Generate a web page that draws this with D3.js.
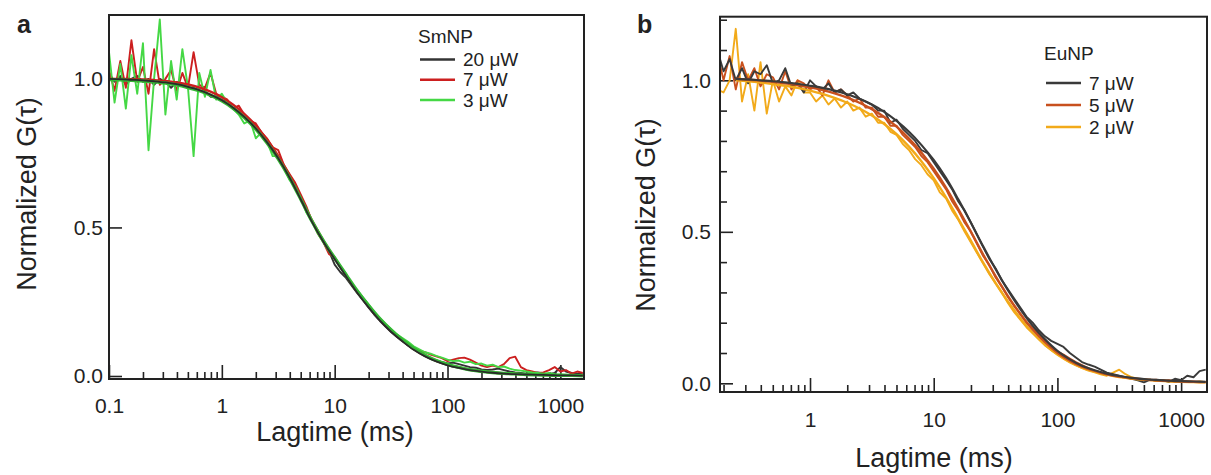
<!DOCTYPE html>
<html><head><meta charset="utf-8">
<script src="https://cdn.jsdelivr.net/npm/d3@7"></script>
<style>body{margin:0;background:#fff}svg text{font-family:"Liberation Sans",Arial,sans-serif;fill:#222}</style>
</head><body><svg id="c" width="1211" height="475"></svg>
<script>
// ---------- data ----------
const lag = [0.1,0.112,0.126,0.141,0.158,0.178,0.2,0.224,0.251,0.282,0.316,0.355,0.398,0.447,0.501,0.562,0.631,0.708,0.794,0.891,
  1,1.12,1.26,1.41,1.58,1.78,2,2.24,2.51,2.82,3.16,3.55,3.98,4.47,5.01,5.62,6.31,7.08,7.94,8.91,
  10,11.2,12.6,14.1,15.8,17.8,20,22.4,25.1,28.2,31.6,35.5,39.8,44.7,50.1,56.2,63.1,70.8,79.4,89.1,
  100,112,126,141,158,178,200,224,251,282,316,355,398,447,501,562,631,708,794,891,
  1000,1120,1260,1410,1580];
const lagB = [0.178,0.2,0.224,0.251,0.282,0.316,0.355,0.398,0.447,0.501,0.562,0.631,0.708,0.794,0.891,
  1,1.12,1.26,1.41,1.58,1.78,2,2.24,2.51,2.82,3.16,3.55,3.98,4.47,5.01,5.62,6.31,7.08,7.94,8.91,
  10,11.2,12.6,14.1,15.8,17.8,20,22.4,25.1,28.2,31.6,35.5,39.8,44.7,50.1,56.2,63.1,70.8,79.4,89.1,
  100,112,126,141,158,178,200,224,251,282,316,355,398,447,501,562,631,708,794,891,
  1000,1120,1260,1410,1580];
const fitLag = [0.1,0.126,0.158,0.2,0.251,0.316,0.398,0.501,0.631,0.794,1,1.26,1.58,2,2.51,3.16,3.98,5.01,6.31,7.94,
  10,12.6,15.8,20,25.1,31.6,39.8,50.1,63.1,79.4,100,126,158,200,251,316,398,501,631,794,1000,1260,1580];
const fitLagB = [0.251,0.316,0.398,0.501,0.631,0.794,1,1.26,1.58,2,2.51,3.16,3.98,5.01,6.31,7.94,
  10,12.6,15.8,20,25.1,31.6,39.8,50.1,63.1,79.4,100,126,158,200,251,316,398,501,631,794,1000,1260,1580];

// Panel a : SmNP
const seriesA = ["20 μW","7 μW","3 μW"];
const colorsA = ["#333333","#cc1f1f","#45d845"];
const dataA20 = [1.02,0.99,1.01,0.98,1.0,1.01,0.99,1.0,0.98,1.0,0.99,0.97,0.99,0.98,0.97,0.97,0.96,0.96,0.94,0.94,
  0.93,0.92,0.9,0.89,0.87,0.86,0.83,0.81,0.79,0.76,0.73,0.7,0.67,0.63,0.6,0.56,0.52,0.49,0.45,0.42,
  0.375,0.35,0.33,0.305,0.28,0.255,0.23,0.207,0.186,0.166,0.148,0.132,0.117,0.103,0.09,0.08,0.07,0.06,0.053,0.047,
  0.042,0.045,0.04,0.035,0.03,0.028,0.022,0.02,0.022,0.025,0.02,0.015,0.012,0.01,0.008,0.01,0.012,0.008,0.006,0.01,0.03,0.015,0.01,0.008,0.006];
const dataA7 = [1.03,0.96,1.06,0.97,1.13,0.99,1.04,0.95,1.1,0.98,1.0,1.03,0.96,1.02,0.97,1.09,0.98,0.97,1.02,0.95,
  0.94,0.93,0.9,0.91,0.88,0.86,0.85,0.82,0.8,0.77,0.76,0.71,0.68,0.65,0.61,0.57,0.52,0.48,0.45,0.41,
  0.4,0.37,0.34,0.31,0.285,0.26,0.235,0.21,0.19,0.17,0.152,0.135,0.12,0.108,
  0.095,0.085,0.08,0.072,0.066,0.06,0.05,0.055,0.06,0.062,0.055,0.045,0.035,0.03,0.035,0.03,0.04,0.06,0.065,0.03,
  0.02,0.015,0.01,0.012,0.02,0.03,0.015,0.02,0.008,0.015,0.01];
const dataA3 = [1.09,0.92,1.05,0.9,1.08,0.95,1.12,0.76,1.0,1.2,0.88,1.06,0.93,1.1,0.97,0.74,1.02,0.94,1.03,0.93,
  0.95,0.92,0.9,0.88,0.85,0.86,0.8,0.82,0.79,0.74,0.74,0.7,0.66,0.64,0.6,0.55,0.52,0.48,0.45,0.42,
  0.4,0.37,0.345,0.31,0.29,0.265,0.24,0.215,0.195,0.175,0.158,0.14,0.128,0.115,0.1,0.09,0.08,0.075,0.068,0.062,
  0.055,0.05,0.052,0.045,0.048,0.04,0.042,0.035,0.038,0.03,0.032,0.025,0.02,0.018,0.015,0.012,0.01,0.008,0.01,0.006,0.005,0.004,0.003,0.002,0.002];
const fitA20 = [1.0,0.999,0.997,0.995,0.992,0.988,0.982,0.973,0.962,0.947,0.928,0.903,0.872,0.833,0.787,0.733,0.668,0.594,0.518,0.452,
  0.393,0.336,0.281,0.231,0.187,0.149,0.117,0.088,0.066,0.049,0.036,0.027,0.02,0.015,0.011,0.008,0.006,0.005,0.004,0.003,0.002,0.002,0.001];
const fitA7 = [1.0,1.0,0.999,0.998,0.996,0.993,0.988,0.981,0.971,0.957,0.938,0.913,0.882,0.843,0.796,0.741,0.675,0.6,0.523,0.456,
  0.396,0.339,0.284,0.234,0.19,0.152,0.12,0.091,0.068,0.051,0.038,0.029,0.021,0.016,0.012,0.009,0.007,0.005,0.004,0.003,0.002,0.002,0.001];
const fitA3 = [0.998,0.997,0.995,0.993,0.99,0.986,0.98,0.971,0.96,0.945,0.926,0.901,0.87,0.831,0.785,0.731,0.667,0.595,0.52,0.455,
  0.397,0.341,0.287,0.237,0.193,0.155,0.122,0.093,0.07,0.052,0.039,0.029,0.021,0.016,0.012,0.009,0.007,0.005,0.004,0.003,0.002,0.002,0.001];

// Panel b : EuNP
const seriesB = ["7 μW","5 μW","2 μW"];
const colorsB = ["#3a3a3a","#c8501e","#f2aa1a"];
const dataB7 = [1.1,1.03,1.07,1.0,1.04,0.99,1.03,1.02,1.05,0.99,1.0,1.04,0.98,0.99,0.96,
  1.0,0.98,0.97,0.99,0.96,0.97,0.95,0.96,0.94,0.93,0.92,0.9,0.9,0.86,0.87,0.84,0.82,0.8,0.77,0.76,
  0.73,0.7,0.67,0.64,0.6,0.57,0.53,0.49,0.45,0.41,0.38,0.34,0.31,0.28,0.25,0.22,0.2,0.175,0.155,0.14,
  0.13,0.12,0.1,0.085,0.07,0.062,0.055,0.045,0.035,0.03,0.025,0.02,0.015,0.01,0.003,0.012,0.008,0.01,0.005,0.015,0.01,0.025,0.02,0.04,0.045];
const dataB5 = [1.09,1.0,1.08,0.97,1.06,1.0,1.04,0.98,1.02,1.01,0.97,1.03,0.97,1.0,0.99,
  0.97,0.98,0.95,1.0,0.96,0.97,0.95,0.93,0.94,0.91,0.91,0.88,0.88,0.85,0.85,0.82,0.8,0.78,0.75,0.73,
  0.7,0.67,0.64,0.6,0.57,0.53,0.5,0.46,0.42,0.39,0.35,0.32,0.285,0.255,0.23,0.2,0.18,0.16,0.14,0.12,
  0.105,0.095,0.082,0.07,0.06,0.05,0.042,0.035,0.03,0.026,0.022,0.018,0.015,0.013,0.012,0.01,0.012,0.008,0.01,0.006,0.008,0.006,0.005,0.004,0.004];
const dataB2 = [0.97,0.96,1.0,1.17,0.93,1.02,0.9,1.06,0.89,1.0,0.93,0.98,0.95,1.0,0.96,
  0.96,0.93,0.95,0.92,0.94,0.91,0.93,0.9,0.91,0.88,0.89,0.86,0.86,0.83,0.82,0.79,0.77,0.74,0.72,0.69,
  0.67,0.63,0.61,0.57,0.54,0.5,0.465,0.43,0.395,0.36,0.33,0.3,0.265,0.235,0.21,0.185,0.165,0.145,0.125,0.11,
  0.095,0.082,0.07,0.06,0.05,0.042,0.036,0.03,0.025,0.035,0.045,0.03,0.02,0.015,0.01,0.012,0.008,0.01,0.006,0.005,0.007,0.005,0.004,0.006,0.004];
const fitB7 = [1.005,1.003,1.0,0.997,0.993,0.988,0.982,0.975,0.966,0.954,0.939,0.92,0.896,0.866,0.83,0.787,
  0.737,0.677,0.607,0.53,0.452,0.377,0.307,0.245,0.19,0.145,0.107,0.079,0.058,0.043,0.032,0.024,0.018,0.014,0.011,0.009,0.007,0.006,0.005];
const fitB5 = [1.005,1.002,0.999,0.995,0.99,0.984,0.977,0.968,0.957,0.943,0.926,0.905,0.879,0.847,0.808,0.762,
  0.708,0.645,0.575,0.5,0.425,0.354,0.288,0.229,0.178,0.136,0.101,0.075,0.055,0.041,0.03,0.022,0.017,0.013,0.01,0.008,0.006,0.005,0.004];
const fitB2 = [1.0,0.997,0.993,0.988,0.982,0.975,0.966,0.955,0.942,0.926,0.907,0.884,0.856,0.822,0.781,0.733,
  0.677,0.613,0.543,0.47,0.398,0.331,0.27,0.215,0.167,0.127,0.095,0.07,0.052,0.039,0.029,0.021,0.016,0.012,0.009,0.007,0.005,0.004,0.003];

const xMajor = [0.1,1,10,100,1000];
const xTickLabels = ["0.1","1","10","100","1000"];
const yMajor = [0,0.5,1.0];
const yTickLabels = ["0.0","0.5","1.0"];
const yMinorB = [0.1,0.2,0.3,0.4,0.6,0.7,0.8,0.9,1.1,1.2];
const xTitle = "Lagtime (ms)";
const yTitle = "Normalized G(τ)";

// ---------- drawing ----------
const svg = d3.select("#c");
const zip = (xs, ys) => ys.map((v,i)=>[xs[i], v]);

function panel(cfg){
  const g = svg.append("g");
  const x = d3.scaleLog().domain(cfg.xDom).range([cfg.L, cfg.R]);
  const y = d3.scaleLinear().domain(cfg.yDom).range([cfg.B, cfg.T]);
  const id = "clip"+cfg.name;
  svg.append("clipPath").attr("id", id).append("rect")
    .attr("x", cfg.L).attr("y", cfg.T).attr("width", cfg.R-cfg.L).attr("height", cfg.B-cfg.T);

  const dom = x.domain();
  const minors = [];
  xMajor.forEach(d => { for (let k=2;k<10;k++){ const v=d*k; if (v>=dom[0] && v<=dom[1]) minors.push(v);} });
  const majors = xMajor.filter(v => v>=dom[0]*0.999 && v<=dom[1]);
  g.append("g").attr("transform",`translate(0,${cfg.B})`)
    .call(d3.axisBottom(x).tickValues(minors).tickSizeInner(-7).tickSizeOuter(0).tickFormat(""));
  g.append("g").attr("transform",`translate(0,${cfg.B})`)
    .call(d3.axisBottom(x).tickValues(majors).tickSizeInner(-14).tickSizeOuter(0).tickPadding(cfg.xPad)
    .tickFormat(d => xTickLabels[xMajor.indexOf(d)]));
  g.append("g").attr("transform",`translate(${cfg.L},0)`)
    .call(d3.axisLeft(y).tickValues(yMajor).tickSizeInner(-13).tickSizeOuter(0).tickPadding(cfg.yPad)
    .tickFormat(d => yTickLabels[yMajor.indexOf(d)]));
  if (cfg.yMinor){
    g.append("g").attr("transform",`translate(${cfg.L},0)`)
      .call(d3.axisLeft(y).tickValues(cfg.yMinor).tickSizeInner(-7).tickSizeOuter(0).tickFormat(""));
  }
  g.selectAll(".domain").remove();
  g.selectAll(".tick line").attr("stroke","#222").attr("stroke-width",1.6);
  g.selectAll(".tick text").attr("font-size",21).attr("fill","#222")
    .attr("font-family",'"Liberation Sans",Arial,sans-serif');

  const lineD = d3.line().x(d=>x(d[0])).y(d=>y(d[1]));
  const lineF = d3.line().x(d=>x(d[0])).y(d=>y(d[1])).curve(d3.curveMonotoneX);
  const pg = g.append("g").attr("clip-path",`url(#${id})`);
  cfg.data.forEach(s => {
    pg.append("path").attr("d", lineD(zip(s.x, s.y))).attr("fill","none")
      .attr("stroke", s.c).attr("stroke-width", 1.9).attr("stroke-linejoin","round");
  });
  cfg.fits.forEach(s => {
    pg.append("path").attr("d", lineF(zip(s.x, s.y))).attr("fill","none")
      .attr("stroke", s.c).attr("stroke-width", s.w).attr("stroke-linejoin","round");
  });

  g.append("rect").attr("x",cfg.L).attr("y",cfg.T).attr("width",cfg.R-cfg.L).attr("height",cfg.B-cfg.T)
    .attr("fill","none").attr("stroke","#222").attr("stroke-width",2);

  g.append("text").attr("x",cfg.xTitleX).attr("y",cfg.xTitleY).attr("text-anchor","middle")
    .attr("font-size",27).text(xTitle);
  g.append("text").attr("transform",`translate(${cfg.yTitleX},${cfg.yTitleY}) rotate(-90)`)
    .attr("text-anchor","middle").attr("font-size",27).text(yTitle);
  g.append("text").attr("x",cfg.tagX).attr("y",33).attr("font-size",25).attr("font-weight","bold").text(cfg.name);

  const lg = g.append("g");
  lg.append("text").attr("x",cfg.legX-2).attr("y",cfg.legTitleY).attr("font-size",19).text(cfg.legTitle);
  cfg.legNames.forEach((n,i) => {
    const yy = cfg.legY0 + i*cfg.legDy;
    lg.append("line").attr("x1",cfg.legX).attr("x2",cfg.legX+35).attr("y1",yy).attr("y2",yy)
      .attr("stroke",cfg.legColors[i]).attr("stroke-width",2.5);
    lg.append("text").attr("x",cfg.legX+43).attr("y",yy+6.5).attr("font-size",19).text(n);
  });
}

panel({
  name:"a", L:109, R:584, T:15, B:379, xDom:[0.1,1620], yDom:[-0.0101,1.215],
  xPad:19, yPad:6, xTitleX:335, xTitleY:441, yTitleX:36, yTitleY:194, tagX:17,
  data:[{x:lag,y:dataA20,c:colorsA[0]},{x:lag,y:dataA7,c:colorsA[1]},{x:lag,y:dataA3,c:colorsA[2]}],
  fits:[{x:fitLag,y:fitA7,c:colorsA[1],w:2.4},{x:fitLag,y:fitA3,c:"#35b835",w:3.4},{x:fitLag,y:fitA20,c:"#2a2a2a",w:1.8}],
  legTitle:"SmNP", legNames:seriesA, legColors:colorsA, legX:420, legTitleY:43, legY0:59.5, legDy:20.3
});
panel({
  name:"b", L:720, R:1207, T:16.7, B:392, xDom:[0.1872,1619], yDom:[-0.0287,1.21],
  xPad:20, yPad:9, xTitleX:934, xTitleY:467, yTitleX:655, yTitleY:215, tagX:637, yMinor:yMinorB,
  data:[{x:lagB,y:dataB2,c:colorsB[2]},{x:lagB,y:dataB5,c:colorsB[1]},{x:lagB,y:dataB7,c:colorsB[0]}],
  fits:[{x:fitLagB,y:fitB2,c:colorsB[2],w:2.4},{x:fitLagB,y:fitB5,c:colorsB[1],w:2.4},{x:fitLagB,y:fitB7,c:colorsB[0],w:2.2}],
  legTitle:"EuNP", legNames:seriesB, legColors:colorsB, legX:1046, legTitleY:60, legY0:83, legDy:22
});
</script></body></html>
